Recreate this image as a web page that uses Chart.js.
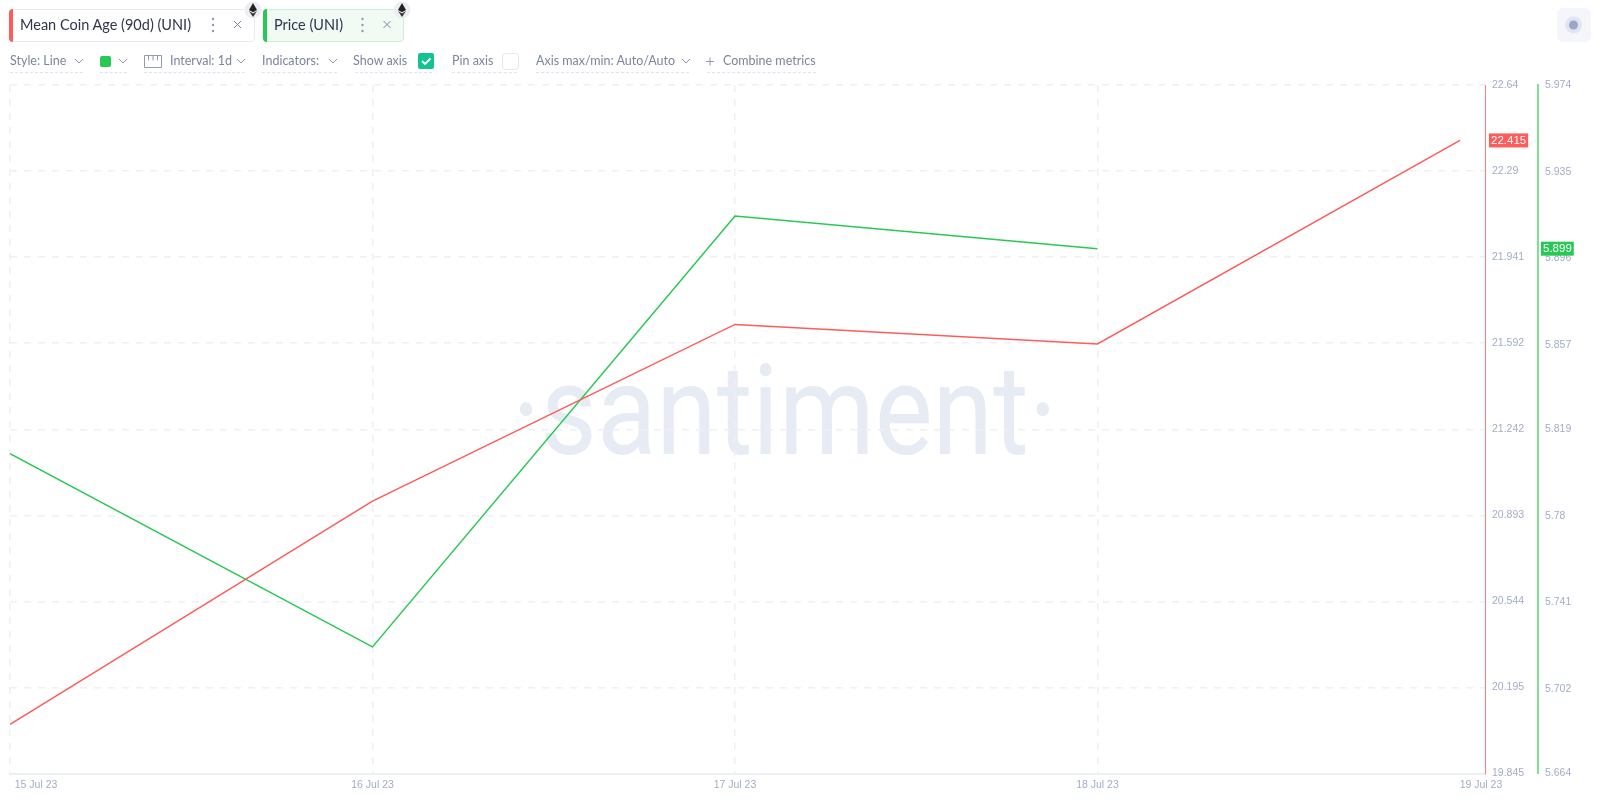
<!DOCTYPE html>
<html><head><meta charset="utf-8">
<script src="https://cdn.jsdelivr.net/npm/chart.js@4/dist/chart.umd.min.js"></script>
<style>
html,body{margin:0;padding:0;background:#fff;width:1600px;height:802px;overflow:hidden}
body{position:relative;font-family:Lato,"Open Sans",sans-serif}
canvas{position:absolute;left:0;top:0}
.a{position:absolute;white-space:nowrap}
.chip{position:absolute;top:9px;height:33px;box-sizing:border-box;border-radius:4px;border:1px solid #e7eaf3;background:#fff}
.chip i{position:absolute;left:-1px;top:-1px;bottom:-1px;width:4px;border-radius:4px 0 0 4px}
.nm{font-size:14.5px;color:#2f354d;line-height:18px;top:16px}
.t{font-size:12.5px;color:#7a859e;line-height:16px;top:53px}
.u{position:absolute;top:72px;height:0;border-top:1px dashed #dfe3ee}
svg{position:absolute;overflow:visible}
#wm{position:absolute;left:512px;top:316px;font:400 127px/190px Roboto,sans-serif;color:#e6ebf4;transform-origin:0 0;transform:scaleX(.86);white-space:nowrap}
</style></head><body>
<div id="wm">·santiment·</div>
<canvas id="c" width="1600" height="802"></canvas>

<div class="chip" style="left:9px;width:246px"><i style="background:#ff5b5b"></i></div>
<div class="chip" style="left:263px;width:141px;background:#f1fbf3;border-color:#c9f1d3"><i style="background:#26c953"></i></div>
<div class="a nm" style="left:20px">Mean Coin Age (90d) (UNI)</div>
<div class="a nm" style="left:274px">Price (UNI)</div>
<svg style="left:0;top:0" width="1600" height="90">
  <g fill="#8f9ab5"><circle cx="213" cy="19" r="1.2"/><circle cx="213" cy="25" r="1.2"/><circle cx="213" cy="31" r="1.2"/><circle cx="362.500" cy="19" r="1.2"/><circle cx="362.500" cy="25" r="1.200"/><circle cx="362.500" cy="31" r="1.200"/></g>
  <g stroke="#7a859e" stroke-width="1" fill="none"><path d="M234 21l7 7M241 21l-7 7M383.500 21l7 7M390.500 21l-7 7"/></g>
  <g><circle cx="253" cy="10" r="8.500" fill="#eceef3"/><path d="M253 3l-4 7 4 2.300 4-2.300z" fill="#222"/><path d="M253 13.400l-4-2.300 4 5.900 4-5.900z" fill="#333"/></g>
  <g><circle cx="402" cy="10" r="8.500" fill="#eceef3"/><path d="M402 3l-4 7 4 2.300 4-2.300z" fill="#222"/><path d="M402 13.400l-4-2.300 4 5.900 4-5.900z" fill="#333"/></g>
  <g stroke="#8f9ab5" stroke-width="1" fill="none">
    <path d="M75 59l4 4 4-4M119 59l4 4 4-4M237 59l4 4 4-4M329 59l4 4 4-4M682 59l4 4 4-4"/>
    <path d="M144.500 55.500h17v12h-17zM148.500 55.500v5M153 55.500v5M157.500 55.500v5"/>
    <path d="M706 61.500h8M710 57.500v8"/>
  </g>
  <rect x="100" y="56" width="11" height="11" rx="2" fill="#26c953"/>
  <rect x="418" y="53" width="16" height="16" rx="2" fill="#14c393"/>
  <path d="M422 61l3 3 5.500-5.500" stroke="#fff" stroke-width="1.800" fill="none"/>
  <rect x="502.500" y="53.500" width="16" height="16" rx="3" fill="#fff" stroke="#e3e7f1"/>
  <rect x="1557" y="8" width="34" height="34" rx="6" fill="#f5f6fb"/>
  <circle cx="1573.500" cy="25" r="8.500" fill="#e2e5f0"/><circle cx="1573.500" cy="25" r="4.500" fill="#9aa7c7"/>
</svg>
<div class="a t" style="left:10px">Style: Line</div>
<div class="a t" style="left:170px">Interval: 1d</div>
<div class="a t" style="left:262px">Indicators:</div>
<div class="a t" style="left:353px">Show axis</div>
<div class="a t" style="left:452px">Pin axis</div>
<div class="a t" style="left:536px">Axis max/min: Auto/Auto</div>
<div class="a t" style="left:723px">Combine metrics</div>
<div class="u" style="left:10px;width:73px"></div><div class="u" style="left:100px;width:27px"></div>
<div class="u" style="left:144px;width:101px"></div><div class="u" style="left:262px;width:75px"></div>
<div class="u" style="left:355px;width:77px"></div><div class="u" style="left:452px;width:65px"></div>
<div class="u" style="left:536px;width:153px"></div><div class="u" style="left:707px;width:109px"></div>

<script>
const dates = ['15 Jul 23','16 Jul 23','17 Jul 23','18 Jul 23','19 Jul 23'];
const coinAge = [20.044, 20.951, 21.668, 21.589, 22.415];
const price = [5.808, 5.721, 5.915, 5.9003, null];
const coinAgeTicks = [19.845,20.195,20.544,20.893,21.242,21.592,21.941,22.29,22.64];
const priceTicks = [5.664,5.702,5.741,5.78,5.819,5.857,5.896,5.935,5.974];
const lastLabels = ['22.415','5.899'];
const RED = '#ff5b5b', GREEN = '#26c953', TICK = '#a3adc7', GRID = '#eef0f6';
const TICK_FONT = {family:'"Liberation Sans",Arial,sans-serif', size:10.5};

const toPoints = vals => vals.map((v,i)=>({x:i,y:v}));
const setTicks = list => s => { s.ticks = list.map(v=>({value:v})); };

const overlay = {
  id:'overlay',
  afterDraw(ch){
    const g = ch.ctx, xs = ch.scales.x;
    g.save();
    g.font = '10.5px "Liberation Sans",Arial,sans-serif';
    g.textBaseline = 'middle'; g.textAlign = 'center'; g.fillStyle = TICK;
    const shift = [26, 0, 0, 0, 21];
    dates.forEach((d,i)=> g.fillText(d, xs.getPixelForValue(i)+shift[i], 785));
    const badge = (txt, scale, val, bg, inset) => {
      const y = scale.getPixelForValue(val), x = scale.left + inset;
      g.font = '11.5px "Liberation Sans",Arial,sans-serif';
      const w = g.measureText(txt).width + 4;
      g.fillStyle = bg; g.fillRect(x, y-7, w, 14);
      g.fillStyle = '#fff'; g.textAlign = 'left';
      g.fillText(txt, x+2, y+.5);
    };
    badge(lastLabels[0], ch.scales.y1, coinAge[4], RED, 4);
    badge(lastLabels[1], ch.scales.y2, price[3], GREEN, 3);
    g.restore();
  }
};

new Chart(document.getElementById('c'), {
  type:'line',
  data:{datasets:[
    {label:'Mean Coin Age (90d) (UNI)', data:toPoints(coinAge), yAxisID:'y1', borderColor:RED, borderWidth:1.5, pointRadius:0, tension:0},
    {label:'Price (UNI)', data:toPoints(price), yAxisID:'y2', borderColor:GREEN, borderWidth:1.5, pointRadius:0, tension:0, spanGaps:false}
  ]},
  options:{
    responsive:false, animation:false, events:[],
    layout:{padding:{left:10,top:85,right:0,bottom:0}},
    plugins:{legend:{display:false},tooltip:{enabled:false}},
    scales:{
      x:{type:'linear',min:0,max:4.069,
        afterBuildTicks:s=>{s.ticks=dates.map((d,i)=>({value:i}));},
        afterFit:s=>{s.height=28.5;},
        ticks:{display:false},
        grid:{drawTicks:false,color:c=>c.index===4?'transparent':GRID,lineWidth:1.5},
        border:{color:'#eceff6',width:2,dash:[7,7]}
      },
      y1:{position:'right',min:19.845,max:22.64,
        afterBuildTicks:setTicks(coinAgeTicks),
        afterFit:s=>{s.width=53;},
        ticks:{color:TICK,font:TICK_FONT,padding:7,autoSkip:false,callback:v=>String(v)},
        grid:{drawTicks:false,color:c=>c.index===0?'transparent':GRID,lineWidth:1.5},
        border:{color:'#ff8080',width:1,dash:[7,7]}
      },
      y2:{position:'right',min:5.664,max:5.974,
        afterBuildTicks:setTicks(priceTicks),
        afterFit:s=>{s.width=62;},
        ticks:{color:TICK,font:TICK_FONT,padding:7,autoSkip:false,callback:v=>String(v)},
        grid:{display:false,drawTicks:false},
        border:{color:'#7fdf95',width:2}
      }
    }
  },
  plugins:[overlay]
});
</script>
</body></html>
